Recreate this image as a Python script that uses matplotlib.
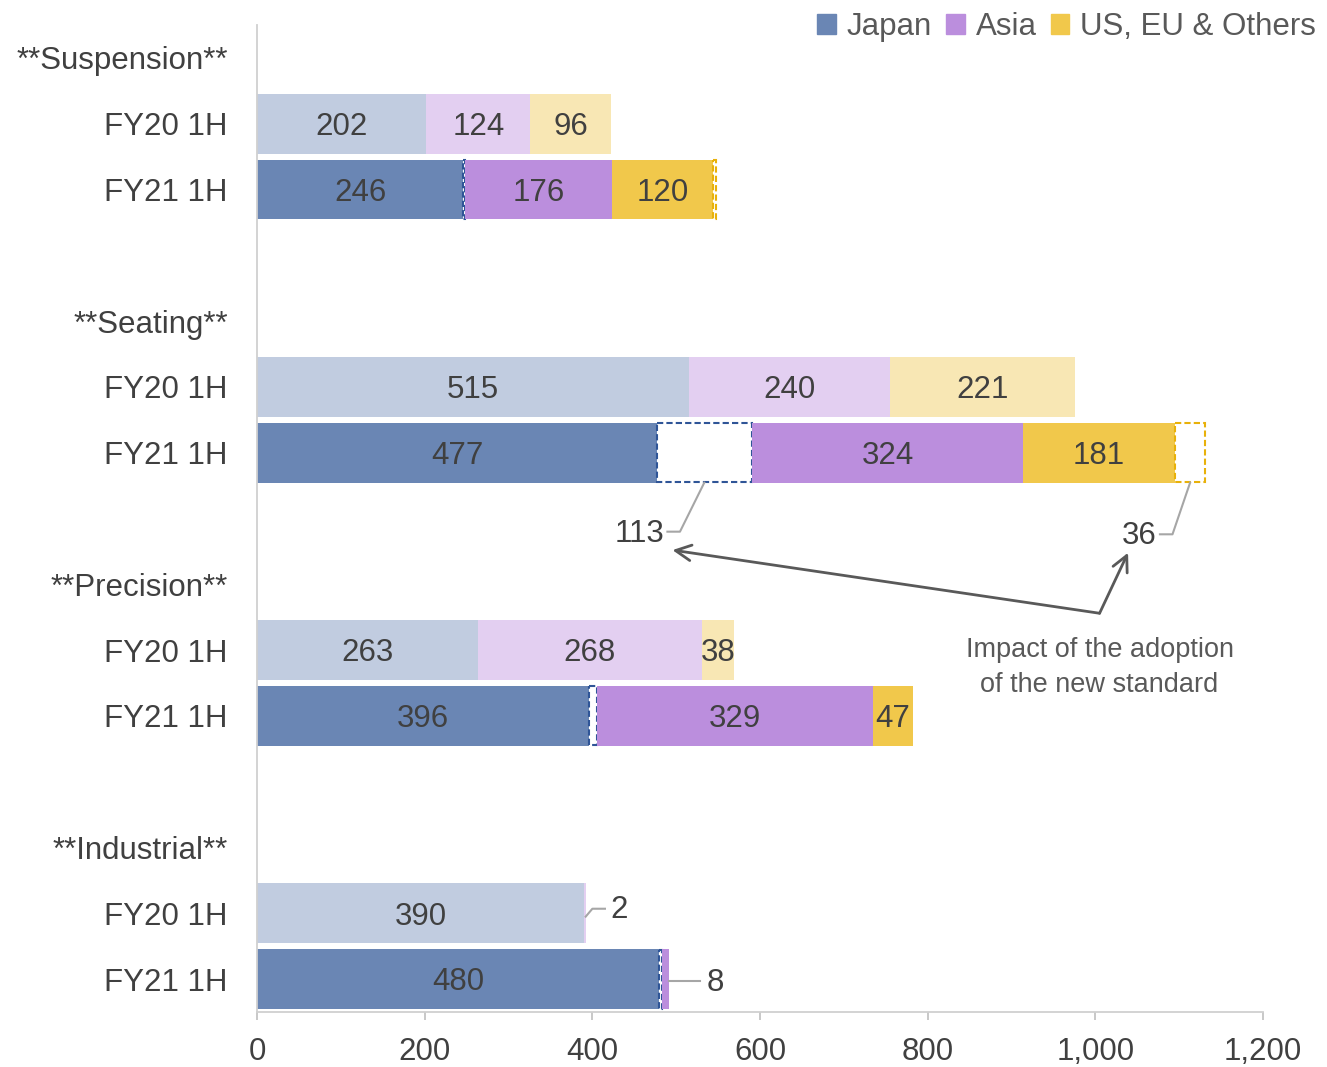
import matplotlib
matplotlib.use("Agg")
from matplotlib import pyplot as plt
from matplotlib.patches import Patch

plt.rcParams['font.family'] = ['Liberation Sans', 'DejaVu Sans']

# Data
groups = ['Suspension', 'Seating', 'Precision', 'Industrial']
periods = ['FY20 1H', 'FY21 1H']

fy20_japan = [202, 515, 263, 390]
fy20_asia = [124, 240, 268, 2]
fy20_us = [96, 221, 38, 0]

fy21_japan = [246, 477, 396, 480]
fy21_japan_adj = [2, 113, 10, 3]     # dashed: impact of new standard
fy21_asia = [176, 324, 329, 8]
fy21_us = [120, 181, 47, 0]
fy21_us_adj = [3, 36, 0, 0]          # dashed: impact of new standard

xticks = [0, 200, 400, 600, 800, 1000, 1200]
xtick_labels = ['0', '200', '400', '600', '800', '1,000', '1,200']

# Colours
c_jp, c_jp_l = '#6A86B4', '#C1CCE0'
c_as, c_as_l = '#BB8EDD', '#E3CFF1'
c_us, c_us_l = '#F1C84B', '#F8E7B4'
edge_jp, edge_us = '#2F5597', '#E8B10A'
txt = '#404040'

fig = plt.figure(figsize=(13.27, 10.67), dpi=100)
ax = fig.add_axes([0.1937, 0.0515, 0.7581, 0.9251])

h = 0.91
fs = 22.5
ytick_pos, ytick_lab = [], []

for i, g in enumerate(groups):
    base = i * 4
    ytick_pos += [base, base + 1, base + 2]
    ytick_lab += ['**' + g + '**'] + periods

    # FY20 row
    y = base + 1
    left = 0
    for val, col in [(fy20_japan[i], c_jp_l), (fy20_asia[i], c_as_l), (fy20_us[i], c_us_l)]:
        if val > 0:
            ax.barh(y, val, left=left, height=h, color=col, edgecolor='none')
            if val > 20:
                ax.text(left + val / 2, y + 0.05, str(val), ha='center', va='center',
                        fontsize=fs, color=txt)
        left += val

    # FY21 row
    y = base + 2
    left = 0
    segs = [(fy21_japan[i], c_jp, None), (fy21_japan_adj[i], 'white', edge_jp),
            (fy21_asia[i], c_as, None), (fy21_us[i], c_us, None),
            (fy21_us_adj[i], 'white', edge_us)]
    for val, col, ec in segs:
        if val > 0:
            if ec is None:
                ax.barh(y, val, left=left, height=h, color=col, edgecolor='none')
                if val > 20:
                    ax.text(left + val / 2, y + 0.05, str(val), ha='center', va='center',
                            fontsize=fs, color=txt)
            else:
                ax.barh(y, val, left=left, height=h * 0.985, color=col, edgecolor=ec,
                        linestyle=(0, (3, 1.5)), linewidth=1.5)
        left += val

lead = '#A6A6A6'
# Seating impact leaders
s = 1
row = s * 4 + 2
x113 = fy21_japan[s] + fy21_japan_adj[s] / 2
ax.plot([x113, x113 - 29, x113 - 44], [row + h / 2, row + 1.2, row + 1.2], color=lead, lw=1.5)
ax.text(x113 - 48, row + 1.23, str(fy21_japan_adj[s]), ha='right', va='center', fontsize=fs, color=txt)

x36 = fy21_japan[s] + fy21_japan_adj[s] + fy21_asia[s] + fy21_us[s] + fy21_us_adj[s] / 2
ax.plot([x36, x36 - 21, x36 - 36], [row + h / 2, row + 1.24, row + 1.24], color=lead, lw=1.5)
ax.text(x36 - 40, row + 1.27, str(fy21_us_adj[s]), ha='right', va='center', fontsize=fs, color=txt)

# Industrial small Asia values
k = 3
row = k * 4 + 1
x2 = fy20_japan[k] + fy20_asia[k]
ax.plot([x2, x2 + 8, x2 + 23], [row + 0.05, row - 0.07, row - 0.07], color=lead, lw=1.5)
ax.text(x2 + 30, row - 0.05, str(fy20_asia[k]), ha='left', va='center', fontsize=fs, color=txt)

row = k * 4 + 2
x8 = fy21_japan[k] + fy21_japan_adj[k] + fy21_asia[k]
ax.plot([x8, x8 + 37], [row + 0.03, row + 0.03], color=lead, lw=1.5)
ax.text(x8 + 45, row + 0.06, str(fy21_asia[k]), ha='left', va='center', fontsize=fs, color=txt)

# Arrows pointing to impact values
vx, vy = 1005, 8.44
arrow = dict(arrowstyle='->', color='#595959', lw=2, mutation_scale=28, shrinkA=0, shrinkB=0)
ax.annotate('', xy=(x113 - 38, 7.48), xytext=(vx, vy), arrowprops=arrow)
ax.annotate('', xy=(1039, 7.52), xytext=(vx, vy), arrowprops=arrow)
ax.text(vx, 9.27, 'Impact of the adoption\nof the new standard', ha='center', va='center',
        fontsize=19.5, color='#595959', linespacing=1.45,
        family=['Liberation Sans Narrow', 'Liberation Sans', 'DejaVu Sans'])

# Axes formatting
ax.set_ylim(14.5, -0.5)
ax.set_xlim(0, 1200)
ax.set_yticks(ytick_pos)
ax.set_yticklabels(ytick_lab, fontsize=fs, color=txt)
ax.tick_params(axis='y', length=0, pad=21)
ax.set_xticks(xticks)
ax.set_xticklabels(xtick_labels, fontsize=fs, color=txt)
ax.tick_params(axis='x', length=6, width=1.2, color='#BFBFBF', pad=12)
for sp in ['top', 'right']:
    ax.spines[sp].set_visible(False)
for sp in ['left', 'bottom']:
    ax.spines[sp].set_color('#D0D0D0')
    ax.spines[sp].set_linewidth(1.3)

# Legend
handles = [Patch(color=c_jp), Patch(color=c_as), Patch(color=c_us)]
fig.legend(handles, ['Japan', 'Asia', 'US, EU & Others'], loc='upper right',
           bbox_to_anchor=(1.006, 1.006), ncol=3, frameon=False, fontsize=fs,
           handlelength=0.6, handleheight=0.6, handletextpad=0.35, columnspacing=0.45,
           borderaxespad=0.2, labelcolor='#595959')

fig.savefig('out.png', dpi=100)
